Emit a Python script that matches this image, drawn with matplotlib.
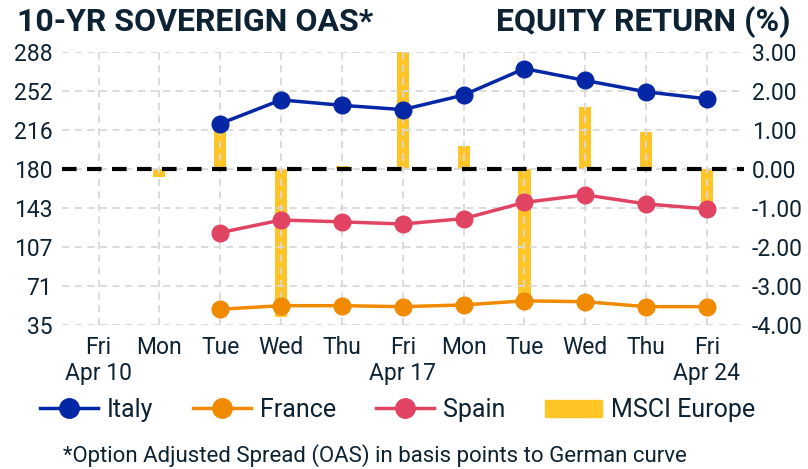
import matplotlib
matplotlib.use("Agg")
import matplotlib.pyplot as plt
import numpy as np
from matplotlib.lines import Line2D
from matplotlib.patches import Patch

plt.rcParams['font.family'] = ['Roboto', 'DejaVu Sans']
plt.rcParams['axes.unicode_minus'] = False

days = ["Fri\nApr 10", "Mon", "Tue", "Wed", "Thu", "Fri\nApr 17",
        "Mon", "Tue", "Wed", "Thu", "Fri\nApr 24"]
italy = [np.nan, np.nan, 222, 244, 239, 235, 248.5, 273, 262, 251.5, 245]
france = [np.nan, np.nan, 50, 53.3, 53.3, 52.4, 54, 57.8, 57, 52.4, 52.4]
spain = [np.nan, np.nan, 121, 132.7, 131, 129, 134, 149, 156, 147.6, 143]
msci = [0.0, -0.2, 1.1, -3.8, 0.08, 3.0, 0.59, -3.3, 1.58, 0.95, -0.95]
oas_tick_labels = ["35", "71", "107", "143", "180", "216", "252", "288"]
eq_ticks = [-4, -3, -2, -1, 0, 1, 2, 3]

NAVY = "#0D2233"
C_IT = "#0527A5"
C_FR = "#F08A00"
C_ES = "#E04462"
C_MS = "#FFC425"

fig = plt.figure(figsize=(8.08, 4.69), dpi=100)
ax = fig.add_axes([62/808, 1-325/469, (743.5-62)/808, (325-52)/469])
x = np.arange(len(days))

# bars on primary axis (percent scale, right side)
ax.bar(x, msci, width=0.2, color=C_MS, zorder=1)
ax.set_ylim(-4, 3)
ax.set_xlim(-0.6, len(days) - 0.4)
ax.set_yticks(eq_ticks)
ax.set_yticklabels([f"{v:.2f}" for v in eq_ticks])
ax.set_axisbelow(False)
ax.grid(True, color="#D9D9D9", linestyle=(0, (4, 3)), linewidth=1.3, zorder=2)
ax.axhline(0, color="black", linestyle=(0, (3.5, 2.5)), linewidth=3, zorder=3)
ax.set_xticks(x)
ax.set_xticklabels(days, linespacing=1.15)
ax.tick_params(axis='both', length=0, labelsize=16.5, colors=NAVY)
ax.tick_params(axis='x', pad=8)
ax.tick_params(axis='y', pad=6)
for s in ax.spines.values():
    s.set_visible(False)

# lines on twin axis (OAS scale, left side)
ax2 = ax.twinx()
ax.yaxis.tick_right()
lo, hi = 35.4, 288.4
ax2.set_ylim(lo, hi)
ax2.set_yticks(np.linspace(lo, hi, len(oas_tick_labels)))
ax2.set_yticklabels(oas_tick_labels)
ax2.yaxis.tick_left()
ax2.tick_params(axis='y', length=0, labelsize=16.5, colors=NAVY, pad=7)
for s in ax2.spines.values():
    s.set_visible(False)
ax2.patch.set_visible(False)
for vals, c in [(italy, C_IT), (france, C_FR), (spain, C_ES)]:
    ax2.plot(x, vals, color=c, linewidth=2.5, marker='o', markersize=12, zorder=4)

fig.text(17/808, 1-22/469, "10-YR SOVEREIGN OAS*", fontsize=23, fontweight='bold',
         color=NAVY, ha='left', va='center')
fig.text(790/808, 1-22/469, "EQUITY RETURN (%)", fontsize=23, fontweight='bold',
         color=NAVY, ha='right', va='center')

handles = [
    Line2D([], [], color=C_IT, linewidth=2.5, marker='o', markersize=14),
    Line2D([], [], color=C_FR, linewidth=2.5, marker='o', markersize=14),
    Line2D([], [], color=C_ES, linewidth=2.5, marker='o', markersize=14),
    Patch(color=C_MS),
]
leg = fig.legend(handles, ["Italy", "France", "Spain", "MSCI Europe"], ncol=4,
                 loc='center', bbox_to_anchor=(398/808, 1-410/469), frameon=False,
                 fontsize=18, handlelength=2.3, handletextpad=0.36, columnspacing=1.6,
                 labelcolor=NAVY)

fig.text(63/808, 1-456/469, "*Option Adjusted Spread (OAS) in basis points to German curve",
         fontsize=16, color=NAVY, ha='left', va='center')

fig.savefig("out.png", dpi=100)
